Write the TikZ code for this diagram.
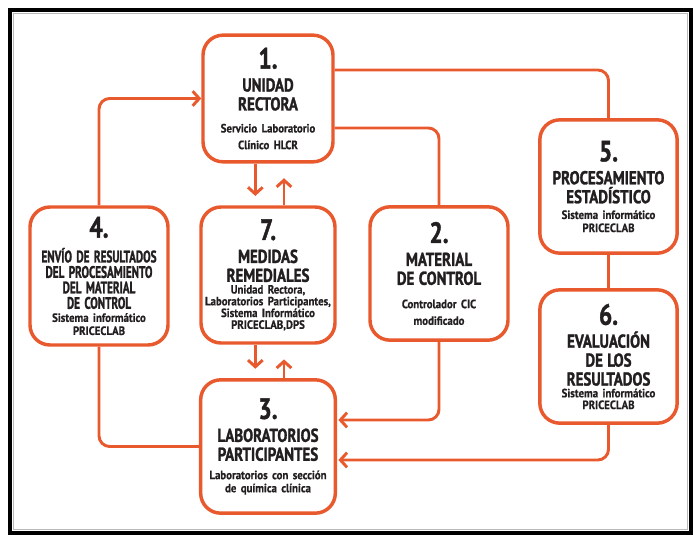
\documentclass[tikz,border=0pt]{standalone}
\usepackage{fontspec}
\newfontfamily\condfont{PT Sans Bold}[FakeStretch=0.8, FakeBold=1.4]
\newfontfamily\narrowfont{PT Sans Bold}[FakeStretch=0.67, FakeBold=1.4]
\newfontfamily\subfont{PT Sans Bold}[FakeStretch=0.9, FakeBold=0.6]
\usepackage{tikz}
\usetikzlibrary{arrows.meta}
\definecolor{cicorange}{HTML}{E8592E}
\definecolor{cictext}{HTML}{231F20}

\newcommand\tightspace{\fontdimen2\font=0.2em\fontdimen3\font=0pt\fontdimen4\font=0pt}
\newcommand\boxnum[1]{{\fontsize{22}{20}\selectfont #1\par}\vspace{3pt}}
\newcommand\boxtitle[1]{{\fontsize{14}{14.2}\selectfont\tightspace #1\par}}
\newcommand\boxsub[2][9.5]{{\subfont\fontsize{9}{#1}\selectfont\tightspace #2\par}}

\tikzset{
  stagebox/.style={draw=cicorange, line width=2.6pt, rounded corners=15pt,
    fill=white, text=cictext, inner sep=0pt,
    font=\condfont, align=center},
  conn/.style={draw=cicorange, line width=2.2pt, rounded corners=8pt},
  tip/.style={-{Straight Barb[length=5pt,width=11pt]}}
}

\begin{document}
\begin{tikzpicture}[x=0.75pt,y=-0.75pt]
          \useasboundingbox (0,0) rectangle (693,535);
          \draw[line width=3pt] (10,10) rectangle (691,533);
          \draw[gray!55,line width=1pt] (13.5,13.5) rectangle (687.5,529.5);

          \node[stagebox, minimum width=97.5pt, minimum height=95pt, text width=92pt] (n1) at (268,98.5)
            {\boxnum{1.}\boxtitle{UNIDAD\\RECTORA}\vspace{4pt}\boxsub[12.5]{Servicio Laboratorio\\Clínico HLCR}};
          \node[stagebox, minimum width=103.5pt, minimum height=103.5pt, text width=100pt] (n4) at (99,276)
            {\boxnum{4.}\vspace{4pt}{\narrowfont\fontsize{12.5}{11.6}\selectfont\tightspace ENVÍO DE RESULTADOS\\DEL PROCESAMIENTO\\DEL MATERIAL\\DE CONTROL\par}\boxsub[9.8]{Sistema informático\\PRICECLAB}};
          \node[stagebox, minimum width=100.5pt, minimum height=102pt, text width=98pt] (n7) at (268,275)
            {\boxnum{7.}\boxtitle{MEDIDAS\\REMEDIALES}\boxsub[8.8]{Unidad Rectora,\\Laboratorios Participantes,\\Sistema Informático\\PRICECLAB,DPS}};
          \node[stagebox, minimum width=103.5pt, minimum height=100pt, text width=98pt] (n2) at (439,273.5)
            {\boxnum{2.}\boxtitle{MATERIAL\\DE CONTROL}\vspace{5pt}\boxsub[12.5]{Controlador CIC\\modificado}};
          \node[stagebox, minimum width=103pt, minimum height=100pt, text width=98pt] (n5) at (608.5,186.5)
            {\boxnum{5.}\boxtitle{PROCESAMIENTO\\ESTADÍSTICO}\vspace{2pt}\boxsub[9.8]{Sistema informático\\PRICECLAB}};
          \node[stagebox, minimum width=103pt, minimum height=100pt, text width=98pt] (n6) at (608.5,356.5)
            {\boxnum{6.}\boxtitle{EVALUACIÓN\\DE LOS\\RESULTADOS}\boxsub[8.8]{Sistema informático\\PRICECLAB}};
          \node[stagebox, minimum width=101pt, minimum height=100pt, text width=98pt] (n3) at (268,446.5)
            {\boxnum{3.}\boxtitle{LABORATORIOS\\PARTICIPANTES}\vspace{4pt}\boxsub[9.8]{Laboratorios con sección\\de química clínica}};

          \coordinate (c15) at (610,70);
          \coordinate (c12) at (439,128);
          \coordinate (c23) at (439,420);
          \coordinate (c63) at (610,460);

          \draw[conn] (n1.east |- c15) -| (n5.north);
          \draw[conn] (n1.east |- c12) -| (n2.north);
          \draw[conn] (n5.south) -- (n6.north);
          \draw[conn,tip] (n4.north) |- (n1.west);
          \draw[conn] (n4.south) |- (n3.west);
          \draw[conn,tip,shorten >=1pt] (n2.south) |- (n3.east |- c23);
          \draw[conn,tip,shorten >=1pt] (n6.south) |- (n3.east |- c63);
          \draw[conn,tip,shorten >=7pt] ([xshift=-9.5pt]n1.south) -- ([xshift=-9.5pt]n7.north);
          \draw[conn,tip,shorten >=11pt] ([xshift=12pt]n7.north) -- ([xshift=12pt]n1.south);
          \draw[conn,tip,shorten >=7pt] ([xshift=-9.5pt]n7.south) -- ([xshift=-9.5pt]n3.north);
          \draw[conn,tip,shorten >=11pt] ([xshift=12pt]n3.north) -- ([xshift=12pt]n7.south);
        \end{tikzpicture}
\end{document}
